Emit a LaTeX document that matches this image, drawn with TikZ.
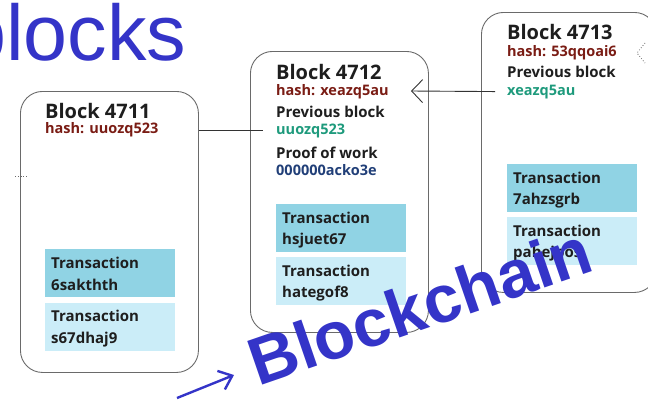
\documentclass[tikz,border=0pt]{standalone}
\usepackage{fontspec}
\setmainfont{Open Sans}
\newfontfamily\arialfont{Liberation Sans}
\usetikzlibrary{arrows.meta,calc}

\definecolor{ink}{HTML}{1E1E1E}
\definecolor{hashred}{HTML}{7A1C14}
\definecolor{prevgreen}{HTML}{1E9A7C}
\definecolor{powblue}{HTML}{213F78}
\definecolor{txdark}{HTML}{90D3E4}
\definecolor{txlight}{HTML}{CBEDF8}
\definecolor{brandblue}{HTML}{3434C8}
\definecolor{frame}{HTML}{6A6A6A}
\definecolor{linkgray}{HTML}{333333}

\begin{document}
\begin{tikzpicture}[x=1pt,y=-1pt,
  blockbox/.style={draw=frame, line width=0.9pt, rounded corners=22pt,
    inner sep=0pt, anchor=north west},
  txbox/.style={inner sep=0pt, anchor=north west, minimum width=130pt,
    minimum height=48pt},
  txt/.style={anchor=base west, inner sep=0pt, text=ink},
  blocktitle/.style={txt, font=\bfseries\fontsize{20}{20}\selectfont},
  hashline/.style={txt, text=hashred, font=\bfseries\fontsize{14.5}{15}\selectfont},
  fieldname/.style={txt, font=\bfseries\fontsize{15}{15}\selectfont},
  prevhash/.style={txt, text=prevgreen, font=\bfseries\fontsize{14.5}{15}\selectfont},
  powhash/.style={txt, text=powblue, font=\bfseries\fontsize{14.5}{15}\selectfont},
  txlabel/.style={txt, font=\bfseries\fontsize{15}{15}\selectfont},
  link/.style={draw=linkgray, line width=0.9pt},
]
\useasboundingbox (0,0) rectangle (648,400);

% heading, partly cut by the left edge
\node[anchor=base west, inner sep=0pt, text=brandblue,
  font=\arialfont\fontsize{79}{79}\selectfont] (heading) at (-38,60) {blocks};

% ---- Block 4711 ----
\node[blockbox, minimum width=178pt, minimum height=281pt] (b1) at (20,91) {};
\node[blocktitle] (b1title) at (45,118) {Block 4711};
\node[hashline] (b1hash) at (45,133) {hash: uuozq523};
\node[txbox, fill=txdark] (t11) at (45,249) {};
\node[txbox, fill=txlight] (t12) at (45,303) {};
\node[txlabel] at ($(t11.north west)+(6,19)$) {Transaction};
\node[txlabel] at ($(t11.north west)+(6,41)$) {6sakthth};
\node[txlabel] at ($(t12.north west)+(6,18)$) {Transaction};
\node[txlabel] at ($(t12.north west)+(6,40)$) {s67dhaj9};

% ---- Block 4712 ----
\node[blockbox, minimum width=178pt, minimum height=281pt] (b2) at (250,51) {};
\node[blocktitle] (b2title) at (276,79) {Block 4712};
\node[hashline] (b2hash) at (276,95) {hash: xeazq5au};
\node[fieldname] (b2prevname) at (276,117) {Previous block};
\node[prevhash] (b2prev) at (276,134) {uuozq523};
\node[fieldname] (b2powname) at (276,158) {Proof of work};
\node[powhash] (b2pow) at (276,175) {000000acko3e};
\node[txbox, fill=txdark] (t21) at (276,204) {};
\node[txbox, fill=txlight] (t22) at (276,257) {};
\node[txlabel] at ($(t21.north west)+(6,19)$) {Transaction};
\node[txlabel] at ($(t21.north west)+(6,40)$) {hsjuet67};
\node[txlabel] at ($(t22.north west)+(6,19)$) {Transaction};
\node[txlabel] at ($(t22.north west)+(6,40)$) {hategof8};

% ---- Block 4713 ----
\node[blockbox, minimum width=175pt, minimum height=280pt] (b3) at (481,12) {};
\node[blocktitle] (b3title) at (507,39) {Block 4713};
\node[hashline] (b3hash) at (507,56) {hash: 53qqoai6};
\node[fieldname] (b3prevname) at (507,77) {Previous block};
\node[prevhash] (b3prev) at (507,95) {xeazq5au};
\node[txbox, fill=txdark] (t31) at (507,164) {};
\node[txbox, fill=txlight] (t32) at (507,217) {};
\node[txlabel] at ($(t31.north west)+(6,19)$) {Transaction};
\node[txlabel] at ($(t31.north west)+(6,40)$) {7ahzsgrb};
\node[txlabel] at ($(t32.north west)+(6,19)$) {Transaction};
\node[txlabel] at ($(t32.north west)+(6,40)$) {pahejpos};

% ---- chain links ----
\draw[link] (b1.east |- b2prev.west) -- ([xshift=-13pt]b2prev.west);
\coordinate (tip2) at (411,91);
\draw[link, -{Straight Barb[length=11pt,width=23pt,line width=0.9pt]}]
  ([xshift=-12pt]b3prev.west) -- (tip2);

% faint marks of neighbouring links
\coordinate (dotA) at (15,176);
\coordinate (dotB) at (27,176);
\draw[frame, dotted, line width=0.8pt] (dotA) -- (dotB);
\coordinate (chevTip) at (637,53);
\draw[frame, dotted, line width=0.8pt] (645,43) -- (chevTip) -- (645,63);

% ---- Blockchain label with pointer ----
\coordinate (ptrStart) at (177,398);
\coordinate (ptrTip) at (234,375);
\draw[brandblue, line width=2.4pt, -{Straight Barb[length=12pt,width=20pt,line width=2.4pt]}]
  (ptrStart) -- (ptrTip);
\node[anchor=base west, inner sep=0pt, rotate=19, text=brandblue,
  font=\arialfont\bfseries\fontsize{67}{67}\selectfont] (chainlabel) at (258.4,386.6) {Blockchain};
\end{tikzpicture}
\end{document}
